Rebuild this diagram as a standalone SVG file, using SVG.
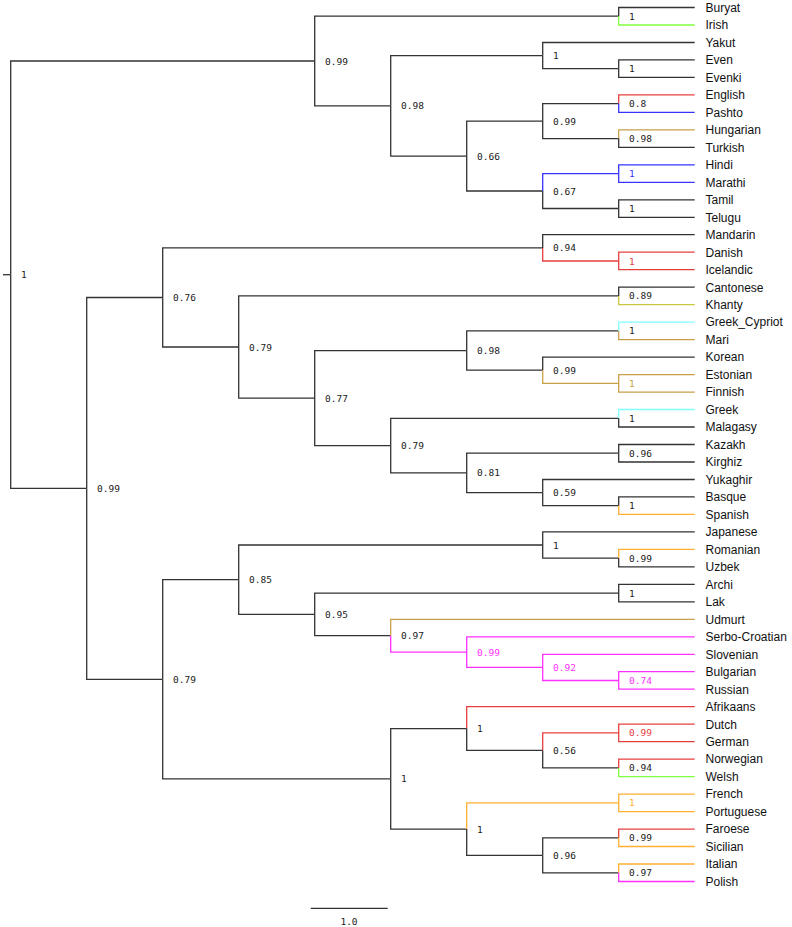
<svg xmlns="http://www.w3.org/2000/svg" width="792" height="927" viewBox="0 0 792 927">
<style>
.bg{fill:#fff}
path{fill:none;stroke:#333;stroke-width:1.3}
.red{stroke:#e5403e}.blue{stroke:#3535ff}.grn{stroke:#80ff40}.gold{stroke:#c8a048}
.olv{stroke:#c8c840}.cyn{stroke:#80ffff}.org{stroke:#ffb030}.mag{stroke:#ff30ff}
.leaf text{font-family:"Liberation Sans",Arial,sans-serif;font-size:12px;fill:#111}
.node text{font-family:"DejaVu Sans Mono","Liberation Mono",monospace;font-size:9.5px;fill:#222}
.node text.tred{fill:#e5403e}.node text.tblue{fill:#3535ff}.node text.tgold{fill:#c8a048}
.node text.torg{fill:#ffb030}.node text.tmag{fill:#ff30ff}
.scale text{font-family:"DejaVu Sans Mono","Liberation Mono",monospace;font-size:9.5px;fill:#222}
</style>
<rect class="bg" width="792" height="927"/>
<g id="connectors">
<path d="M3 274.7H10.7"/>
<path d="M10.7 274.7V61H314.7"/>
<path d="M10.7 274.7V488.4H86.7"/>
<path d="M314.7 61V16.2H618.7"/>
<path d="M618.7 16.2V7.5H694.7"/>
<path class="grn" d="M618.7 16.2V25H694.7"/>
<path d="M314.7 61V105.8H390.7"/>
<path d="M390.7 105.8V55.6H542.7"/>
<path d="M542.7 55.6V42.5H694.7"/>
<path d="M542.7 55.6V68.7H618.7"/>
<path d="M618.7 68.7V59.9H694.7"/>
<path d="M618.7 68.7V77.4H694.7"/>
<path d="M390.7 105.8V156.1H466.7"/>
<path d="M466.7 156.1V121.1H542.7"/>
<path d="M542.7 121.1V103.6H618.7"/>
<path class="red" d="M618.7 103.6V94.9H694.7"/>
<path class="blue" d="M618.7 103.6V112.4H694.7"/>
<path d="M542.7 121.1V138.6H618.7"/>
<path class="gold" d="M618.7 138.6V129.9H694.7"/>
<path d="M618.7 138.6V147.3H694.7"/>
<path d="M466.7 156.1V191H542.7"/>
<path class="blue" d="M542.7 191V173.6H618.7"/>
<path class="blue" d="M618.7 173.6V164.8H694.7"/>
<path class="blue" d="M618.7 173.6V182.3H694.7"/>
<path d="M542.7 191V208.5H618.7"/>
<path d="M618.7 208.5V199.8H694.7"/>
<path d="M618.7 208.5V217.3H694.7"/>
<path d="M86.7 488.4V297.5H162.7"/>
<path d="M162.7 297.5V247.9H542.7"/>
<path d="M542.7 247.9V234.7H694.7"/>
<path class="red" d="M542.7 247.9V261H618.7"/>
<path class="red" d="M618.7 261V252.2H694.7"/>
<path class="red" d="M618.7 261V269.7H694.7"/>
<path d="M162.7 297.5V347H238.7"/>
<path d="M238.7 347V295.9H618.7"/>
<path d="M618.7 295.9V287.2H694.7"/>
<path class="olv" d="M618.7 295.9V304.7H694.7"/>
<path d="M238.7 347V398.1H314.7"/>
<path d="M314.7 398.1V350.6H466.7"/>
<path d="M466.7 350.6V330.9H618.7"/>
<path class="cyn" d="M618.7 330.9V322.1H694.7"/>
<path class="gold" d="M618.7 330.9V339.6H694.7"/>
<path d="M466.7 350.6V370.2H542.7"/>
<path d="M542.7 370.2V357.1H694.7"/>
<path class="gold" d="M542.7 370.2V383.3H618.7"/>
<path class="gold" d="M618.7 383.3V374.6H694.7"/>
<path class="gold" d="M618.7 383.3V392.1H694.7"/>
<path d="M314.7 398.1V445.6H390.7"/>
<path d="M390.7 445.6V418.3H618.7"/>
<path class="cyn" d="M618.7 418.3V409.5H694.7"/>
<path d="M618.7 418.3V427H694.7"/>
<path d="M390.7 445.6V472.9H466.7"/>
<path d="M466.7 472.9V453.2H618.7"/>
<path d="M618.7 453.2V444.5H694.7"/>
<path d="M618.7 453.2V462H694.7"/>
<path d="M466.7 472.9V492.6H542.7"/>
<path d="M542.7 492.6V479.5H694.7"/>
<path d="M542.7 492.6V505.7H618.7"/>
<path d="M618.7 505.7V496.9H694.7"/>
<path class="org" d="M618.7 505.7V514.4H694.7"/>
<path d="M86.7 488.4V679.3H162.7"/>
<path d="M162.7 679.3V579.7H238.7"/>
<path d="M238.7 579.7V545H542.7"/>
<path d="M542.7 545V531.9H694.7"/>
<path d="M542.7 545V558.1H618.7"/>
<path class="org" d="M618.7 558.1V549.4H694.7"/>
<path d="M618.7 558.1V566.9H694.7"/>
<path d="M238.7 579.7V614.4H314.7"/>
<path d="M314.7 614.4V593.1H618.7"/>
<path d="M618.7 593.1V584.3H694.7"/>
<path d="M618.7 593.1V601.8H694.7"/>
<path d="M314.7 614.4V635.7H390.7"/>
<path class="gold" d="M390.7 635.7V619.3H694.7"/>
<path class="mag" d="M390.7 635.7V652.1H466.7"/>
<path class="mag" d="M466.7 652.1V636.8H694.7"/>
<path class="mag" d="M466.7 652.1V667.4H542.7"/>
<path class="mag" d="M542.7 667.4V654.3H694.7"/>
<path class="mag" d="M542.7 667.4V680.5H618.7"/>
<path class="mag" d="M618.7 680.5V671.7H694.7"/>
<path class="mag" d="M618.7 680.5V689.2H694.7"/>
<path d="M162.7 679.3V778.8H390.7"/>
<path d="M390.7 778.8V728.6H466.7"/>
<path class="red" d="M466.7 728.6V706.7H694.7"/>
<path d="M466.7 728.6V750.4H542.7"/>
<path class="red" d="M542.7 750.4V732.9H618.7"/>
<path class="red" d="M618.7 732.9V724.2H694.7"/>
<path class="red" d="M618.7 732.9V741.7H694.7"/>
<path d="M542.7 750.4V767.9H618.7"/>
<path class="red" d="M618.7 767.9V759.1H694.7"/>
<path class="grn" d="M618.7 767.9V776.6H694.7"/>
<path d="M390.7 778.8V829.1H466.7"/>
<path class="org" d="M466.7 829.1V802.8H618.7"/>
<path class="org" d="M618.7 802.8V794.1H694.7"/>
<path class="org" d="M618.7 802.8V811.6H694.7"/>
<path d="M466.7 829.1V855.3H542.7"/>
<path d="M542.7 855.3V837.8H618.7"/>
<path class="red" d="M618.7 837.8V829.1H694.7"/>
<path class="org" d="M618.7 837.8V846.5H694.7"/>
<path d="M542.7 855.3V872.8H618.7"/>
<path class="org" d="M618.7 872.8V864H694.7"/>
<path class="mag" d="M618.7 872.8V881.5H694.7"/>
</g>
<g class="node">
<g id="n_root"><text x="21" y="278.2">1</text></g>
<g id="n_A"><text x="325" y="64.5">0.99</text></g>
<g id="n_BI"><text x="629" y="19.7">1</text></g>
<g id="n_D"><text x="401" y="109.3">0.98</text></g>
<g id="n_E"><text x="553" y="59.1">1</text></g>
<g id="n_EE"><text x="629" y="72.2">1</text></g>
<g id="n_F"><text x="477" y="159.6">0.66</text></g>
<g id="n_G"><text x="553" y="124.6">0.99</text></g>
<g id="n_EP"><text x="629" y="107.1">0.8</text></g>
<g id="n_HT"><text x="629" y="142.1">0.98</text></g>
<g id="n_H"><text x="553" y="194.5">0.67</text></g>
<g id="n_HM"><text class="tblue" x="629" y="177.1">1</text></g>
<g id="n_TT"><text x="629" y="212">1</text></g>
<g id="n_B"><text x="97" y="491.9">0.99</text></g>
<g id="n_I"><text x="173" y="301">0.76</text></g>
<g id="n_K"><text x="553" y="251.4">0.94</text></g>
<g id="n_DI"><text class="tred" x="629" y="264.5">1</text></g>
<g id="n_L"><text x="249" y="350.5">0.79</text></g>
<g id="n_M"><text x="629" y="299.4">0.89</text></g>
<g id="n_N"><text x="325" y="401.6">0.77</text></g>
<g id="n_O"><text x="477" y="354.1">0.98</text></g>
<g id="n_Q"><text x="629" y="334.4">1</text></g>
<g id="n_R"><text x="553" y="373.7">0.99</text></g>
<g id="n_EF"><text class="tgold" x="629" y="386.8">1</text></g>
<g id="n_P"><text x="401" y="449.1">0.79</text></g>
<g id="n_S"><text x="629" y="421.8">1</text></g>
<g id="n_T"><text x="477" y="476.4">0.81</text></g>
<g id="n_U"><text x="629" y="456.7">0.96</text></g>
<g id="n_V"><text x="553" y="496.1">0.59</text></g>
<g id="n_BS"><text x="629" y="509.2">1</text></g>
<g id="n_J"><text x="173" y="682.8">0.79</text></g>
<g id="n_W"><text x="249" y="583.2">0.85</text></g>
<g id="n_Y"><text x="553" y="548.5">1</text></g>
<g id="n_RU"><text x="629" y="561.6">0.99</text></g>
<g id="n_Z"><text x="325" y="617.9">0.95</text></g>
<g id="n_AA"><text x="629" y="596.6">1</text></g>
<g id="n_AB"><text x="401" y="639.2">0.97</text></g>
<g id="n_AC"><text class="tmag" x="477" y="655.6">0.99</text></g>
<g id="n_AD"><text class="tmag" x="553" y="670.9">0.92</text></g>
<g id="n_AE"><text class="tmag" x="629" y="684">0.74</text></g>
<g id="n_X"><text x="401" y="782.3">1</text></g>
<g id="n_AF"><text x="477" y="732.1">1</text></g>
<g id="n_AH"><text x="553" y="753.9">0.56</text></g>
<g id="n_DG"><text class="tred" x="629" y="736.4">0.99</text></g>
<g id="n_NW"><text x="629" y="771.4">0.94</text></g>
<g id="n_AG"><text x="477" y="832.6">1</text></g>
<g id="n_AI"><text class="torg" x="629" y="806.3">1</text></g>
<g id="n_AJ"><text x="553" y="858.8">0.96</text></g>
<g id="n_FS"><text x="629" y="841.3">0.99</text></g>
<g id="n_IP"><text x="629" y="876.3">0.97</text></g>
</g>
<g class="leaf">
<g id="Buryat"><text x="705.5" y="11.8">Buryat</text></g>
<g id="Irish"><text x="705.5" y="29.3">Irish</text></g>
<g id="Yakut"><text x="705.5" y="46.8">Yakut</text></g>
<g id="Even"><text x="705.5" y="64.2">Even</text></g>
<g id="Evenki"><text x="705.5" y="81.7">Evenki</text></g>
<g id="English"><text x="705.5" y="99.2">English</text></g>
<g id="Pashto"><text x="705.5" y="116.7">Pashto</text></g>
<g id="Hungarian"><text x="705.5" y="134.2">Hungarian</text></g>
<g id="Turkish"><text x="705.5" y="151.6">Turkish</text></g>
<g id="Hindi"><text x="705.5" y="169.1">Hindi</text></g>
<g id="Marathi"><text x="705.5" y="186.6">Marathi</text></g>
<g id="Tamil"><text x="705.5" y="204.1">Tamil</text></g>
<g id="Telugu"><text x="705.5" y="221.6">Telugu</text></g>
<g id="Mandarin"><text x="705.5" y="239">Mandarin</text></g>
<g id="Danish"><text x="705.5" y="256.5">Danish</text></g>
<g id="Icelandic"><text x="705.5" y="274">Icelandic</text></g>
<g id="Cantonese"><text x="705.5" y="291.5">Cantonese</text></g>
<g id="Khanty"><text x="705.5" y="309">Khanty</text></g>
<g id="Greek_Cypriot"><text x="705.5" y="326.4">Greek_Cypriot</text></g>
<g id="Mari"><text x="705.5" y="343.9">Mari</text></g>
<g id="Korean"><text x="705.5" y="361.4">Korean</text></g>
<g id="Estonian"><text x="705.5" y="378.9">Estonian</text></g>
<g id="Finnish"><text x="705.5" y="396.4">Finnish</text></g>
<g id="Greek"><text x="705.5" y="413.8">Greek</text></g>
<g id="Malagasy"><text x="705.5" y="431.3">Malagasy</text></g>
<g id="Kazakh"><text x="705.5" y="448.8">Kazakh</text></g>
<g id="Kirghiz"><text x="705.5" y="466.3">Kirghiz</text></g>
<g id="Yukaghir"><text x="705.5" y="483.8">Yukaghir</text></g>
<g id="Basque"><text x="705.5" y="501.2">Basque</text></g>
<g id="Spanish"><text x="705.5" y="518.7">Spanish</text></g>
<g id="Japanese"><text x="705.5" y="536.2">Japanese</text></g>
<g id="Romanian"><text x="705.5" y="553.7">Romanian</text></g>
<g id="Uzbek"><text x="705.5" y="571.2">Uzbek</text></g>
<g id="Archi"><text x="705.5" y="588.6">Archi</text></g>
<g id="Lak"><text x="705.5" y="606.1">Lak</text></g>
<g id="Udmurt"><text x="705.5" y="623.6">Udmurt</text></g>
<g id="Serbo-Croatian"><text x="705.5" y="641.1">Serbo-Croatian</text></g>
<g id="Slovenian"><text x="705.5" y="658.6">Slovenian</text></g>
<g id="Bulgarian"><text x="705.5" y="676">Bulgarian</text></g>
<g id="Russian"><text x="705.5" y="693.5">Russian</text></g>
<g id="Afrikaans"><text x="705.5" y="711">Afrikaans</text></g>
<g id="Dutch"><text x="705.5" y="728.5">Dutch</text></g>
<g id="German"><text x="705.5" y="746">German</text></g>
<g id="Norwegian"><text x="705.5" y="763.4">Norwegian</text></g>
<g id="Welsh"><text x="705.5" y="780.9">Welsh</text></g>
<g id="French"><text x="705.5" y="798.4">French</text></g>
<g id="Portuguese"><text x="705.5" y="815.9">Portuguese</text></g>
<g id="Faroese"><text x="705.5" y="833.4">Faroese</text></g>
<g id="Sicilian"><text x="705.5" y="850.8">Sicilian</text></g>
<g id="Italian"><text x="705.5" y="868.3">Italian</text></g>
<g id="Polish"><text x="705.5" y="885.8">Polish</text></g>
</g>
<g id="scale" class="scale">
<path d="M310.7 908.3H387.7"/>
<text x="349" y="925" text-anchor="middle">1.0</text>
</g>
</svg>
